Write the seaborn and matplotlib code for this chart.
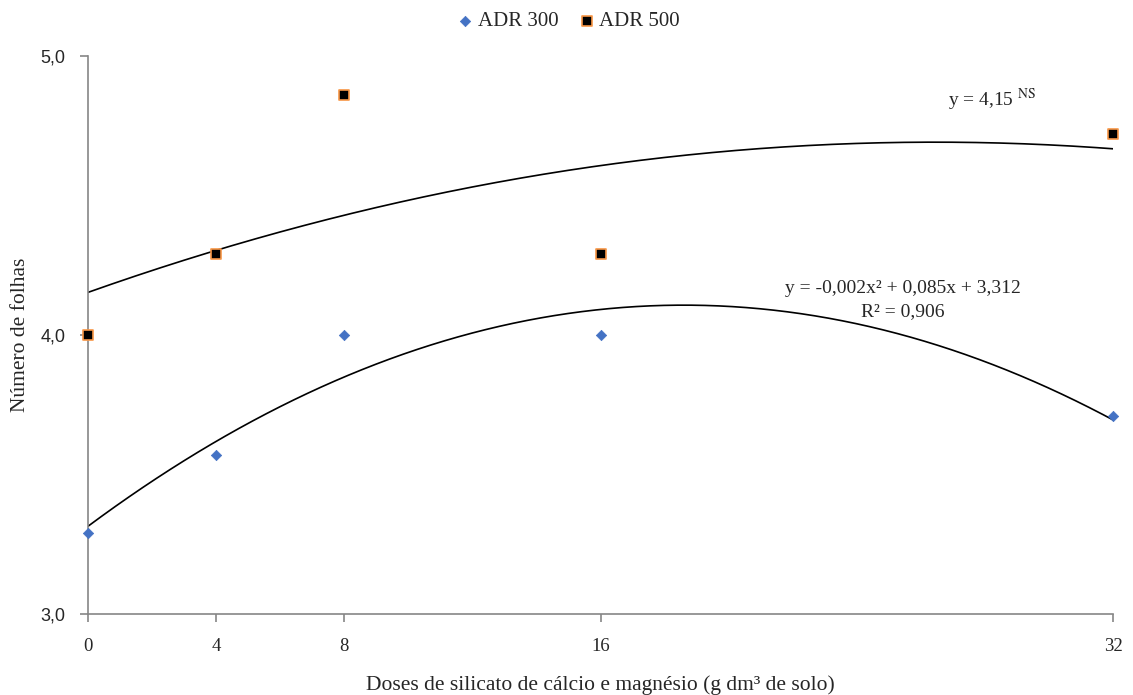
import numpy as np
import pandas as pd
import matplotlib.pyplot as plt
import seaborn as sns

# ========== Data ==========
doses = [0, 4, 8, 16, 32]
adr300 = [3.29, 3.57, 4.00, 4.00, 3.71]
adr500 = [4.00, 4.29, 4.86, 4.29, 4.72]
y_ticks = [3.0, 4.0, 5.0]
y_tick_labels = ["3,0", "4,0", "5,0"]

df = pd.DataFrame({
    "dose": doses * 2,
    "folhas": adr300 + adr500,
    "serie": ["ADR 300"] * 5 + ["ADR 500"] * 5,
})

sns.set_style("ticks")
plt.rcParams["font.family"] = ["Liberation Serif", "DejaVu Serif"]
plt.rcParams["mathtext.fontset"] = "stix"

grey = "#868686"
fig = plt.figure(figsize=(11.33, 6.95), dpi=100)
ax = fig.add_axes([88 / 1133, 1 - 614 / 695, (1113 - 88) / 1133, (614 - 56) / 695])

# ========== Quadratic trend lines (least squares, like Excel) ==========
xs = np.linspace(0, 32, 300)
for vals in (adr300, adr500):
    coef = np.polyfit(doses, vals, 2)
    sns.lineplot(x=xs, y=np.polyval(coef, xs), color="black", linewidth=1.2, ax=ax,
                 legend=False)

# ========== Points ==========
sns.scatterplot(data=df[df.serie == "ADR 300"], x="dose", y="folhas", marker="D",
                s=28, color="#4472C4", edgecolor="#4472C4", linewidth=0.5, ax=ax,
                label="ADR 300", zorder=3, clip_on=False)
sns.scatterplot(data=df[df.serie == "ADR 500"], x="dose", y="folhas", marker="s",
                s=50, color="black", edgecolor="#F79646", linewidth=1.2, ax=ax,
                label="ADR 500", zorder=3, clip_on=False)

ax.set_xlim(0, 32)
ax.set_ylim(3.0, 5.0)
ax.set_xticks(doses)
ax.set_xticklabels([str(d) for d in doses], fontsize=13.5)
ax.set_yticks(y_ticks)
ax.set_yticklabels(y_tick_labels, fontsize=13, family=["Liberation Sans", "DejaVu Sans"])
ax.tick_params(axis="both", color=grey, length=6, width=1.2, pad=11)
ax.tick_params(axis="y", pad=10)

for side in ["top", "right"]:
    ax.spines[side].set_visible(False)
for side in ["left", "bottom"]:
    ax.spines[side].set_color(grey)
    ax.spines[side].set_linewidth(1.2)
ax.spines["left"].set_bounds(3.0, 5.0)

ax.set_xlabel("Doses de silicato de cálcio e magnésio (g dm³ de solo)", fontsize=15.5, labelpad=15)
ax.set_ylabel("Número de folhas", fontsize=15.5, labelpad=8)

# ========== Equations ==========
ax.text(26.85, 4.842, r"y = 4,15 $^{\mathrm{NS}}$", fontsize=14, ha="left", va="center")
ax.text(25.44, 4.165, "y = -0,002x² + 0,085x + 3,312", fontsize=14, ha="center", va="center")
ax.text(25.44, 4.085, "R² = 0,906", fontsize=14, ha="center", va="center")

ax.legend(loc="lower center", bbox_to_anchor=(0.465, 1.0), ncol=2, frameon=False,
          fontsize=15, handletextpad=-0.15, handlelength=1.5, columnspacing=0.6,
          borderaxespad=0.8)

plt.savefig("out.png", dpi=100)
plt.close()
